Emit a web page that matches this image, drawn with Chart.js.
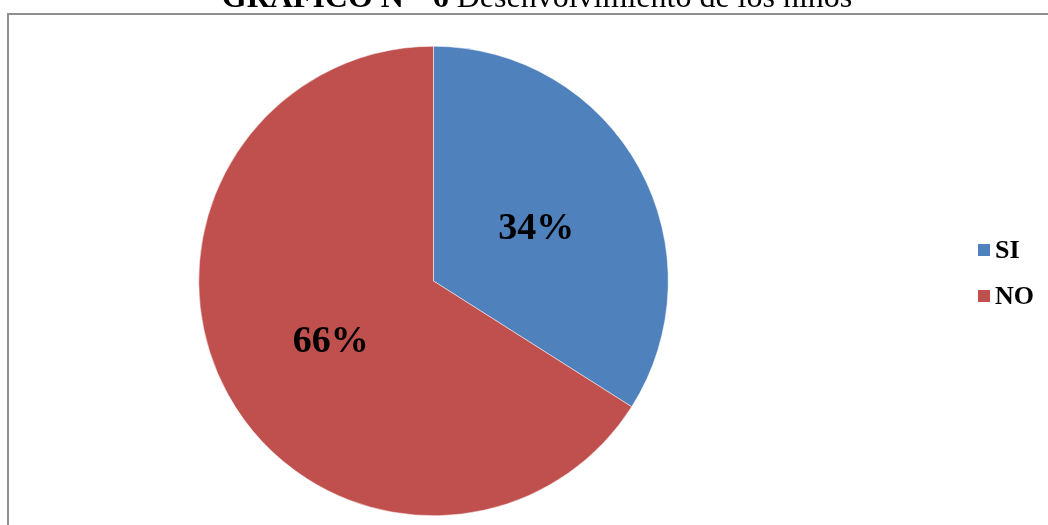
<!DOCTYPE html>
<html>
<head>
<meta charset="utf-8">
<script src="https://cdn.jsdelivr.net/npm/chart.js@4.4.0/dist/chart.umd.min.js"></script>
<style>
  html, body { margin: 0; padding: 0; background: #fff; }
  #wrap { width: 1048px; height: 525px; position: relative; }
</style>
</head>
<body>
<div id="wrap"><canvas id="pieChart" width="1048" height="525"></canvas></div>
<script>
// Data
const categories = ['SI', 'NO'];
const percents = [34, 66];
const sliceColors = ['#4F81BD', '#C0504D'];
const titleBold = 'GRAFICO N°  6 ';
const titleRest = 'Desenvolvimiento de los niños';

// Frame + title drawn behind the pie
const framePlugin = {
    id: 'frame',
    beforeDraw(chart) {
        const ctx = chart.ctx;
        ctx.save();
        ctx.fillStyle = '#ffffff';
        ctx.fillRect(0, 0, chart.width, chart.height);
        ctx.strokeStyle = '#8e8e8e';
        ctx.lineWidth = 2;
        ctx.strokeRect(8, 14, chart.width + 20, chart.height + 20);

        // title, partly cut off at the top
        ctx.fillStyle = '#000';
        ctx.textBaseline = 'alphabetic';
        ctx.font = 'bold 32px "Liberation Serif", "Times New Roman", serif';
        const w1 = ctx.measureText(titleBold).width;
        ctx.font = '32px "Liberation Serif", "Times New Roman", serif';
        const w2 = ctx.measureText(titleRest).width;
        let x = 537 - (w1 + w2) / 2;
        ctx.font = 'bold 32px "Liberation Serif", "Times New Roman", serif';
        ctx.fillText(titleBold, x, 7);
        ctx.font = '32px "Liberation Serif", "Times New Roman", serif';
        ctx.fillText(titleRest, x + w1, 7);
        ctx.restore();
    }
};

// Percentage labels on the slices and the legend on the right
const labelsPlugin = {
    id: 'sliceLabels',
    afterDatasetsDraw(chart) {
        const ctx = chart.ctx;
        const meta = chart.getDatasetMeta(0);
        ctx.save();
        ctx.fillStyle = '#000';
        ctx.textAlign = 'center';
        ctx.textBaseline = 'middle';
        ctx.font = 'bold 38px "Liberation Serif", "Times New Roman", serif';
        meta.data.forEach((arc, i) => {
            const p = arc.tooltipPosition();
            ctx.fillText(percents[i] + '%', p.x, p.y + 5);
        });

        // legend
        ctx.textAlign = 'left';
        ctx.font = 'bold 26px "Liberation Serif", "Times New Roman", serif';
        categories.forEach((c, i) => {
            const y = 250 + i * 46;
            ctx.fillStyle = sliceColors[i];
            ctx.fillRect(978, y - 6, 12, 12);
            ctx.fillStyle = '#000';
            ctx.fillText(c, 995, y + 1);
        });
        ctx.restore();
    }
};

document.addEventListener('DOMContentLoaded', function() {
    const ctx = document.getElementById('pieChart').getContext('2d');
    new Chart(ctx, {
        type: 'pie',
        data: {
            labels: categories,
            datasets: [{
                data: percents,
                backgroundColor: sliceColors,
                borderColor: '#ffffff',
                borderWidth: 0.5
            }]
        },
        options: {
            responsive: false,
            animation: false,
            layout: {
                padding: { top: 46, bottom: 9, left: 0, right: 181 }
            },
            plugins: {
                legend: { display: false },
                title: { display: false },
                tooltip: { enabled: false }
            }
        },
        plugins: [framePlugin, labelsPlugin]
    });
});
</script>
</body>
</html>
